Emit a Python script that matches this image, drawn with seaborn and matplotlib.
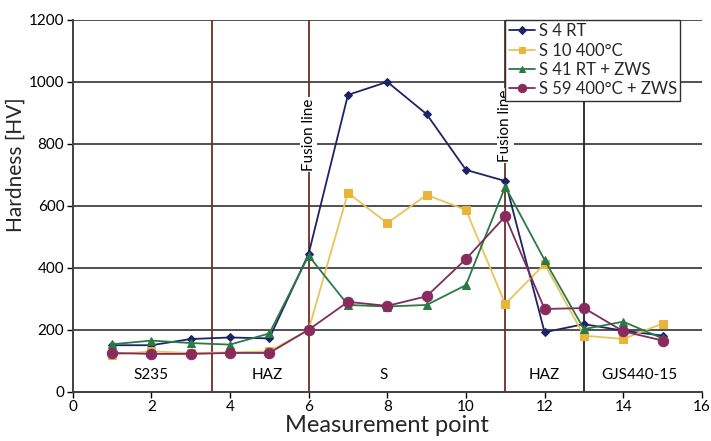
import matplotlib
matplotlib.use("Agg")
import matplotlib.pyplot as plt
import seaborn as sns
import pandas as pd

points = list(range(1, 16))
s4_rt = [150, 150, 170, 175, 172, 445, 958, 1000, 896, 716, 680, 192, 218, 197, 181]
s10_400 = [120, 130, 125, 127, 130, 200, 642, 544, 635, 587, 283, 412, 181, 170, 220]
s41_rt_zws = [153, 165, 157, 152, 188, 439, 280, 275, 280, 344, 662, 425, 202, 226, 172]
s59_400_zws = [125, 122, 122, 125, 125, 200, 290, 277, 308, 428, 566, 267, 270, 195, 165]

series_names = ["S 4 RT", "S 10 400°C", "S 41 RT + ZWS", "S 59 400°C + ZWS"]
series_values = [s4_rt, s10_400, s41_rt_zws, s59_400_zws]
series_colors = ["#1d2466", "#e9b43a", "#2a7a46", "#8a2b5e"]
line_colors = ["#1d2466", "#e8c45a", "#2a7a46", "#7a2f5a"]
series_markers = ["D", "s", "^", "o"]
marker_sizes = [4.5, 6, 6, 7.5]

region_lines = [3.55, 6, 11]
end_line = 13
region_labels = ["S235", "HAZ", "S", "HAZ", "GJS440-15"]
region_label_x = [2.0, 4.95, 7.9, 12.0, 14.4]
fusion_x = [6, 11]
fusion_y = [830, 858]

rows = []
for name, vals in zip(series_names, series_values):
    for p, v in zip(points, vals):
        rows.append({"point": p, "hardness": v, "series": name})
df = pd.DataFrame(rows)

sns.set_theme(style="white")
plt.rcParams["font.family"] = ["Lato", "DejaVu Sans"]

fig = plt.figure(figsize=(7.11, 4.41), dpi=100)
ax = fig.add_axes([0.1022, 0.1118, 0.885, 0.843])

for yv in range(200, 1201, 200):
    ax.axhline(yv, color="#505050", lw=1.4, zorder=1)

for xv in region_lines:
    ax.axvline(xv, color="#6e2e22", lw=1.3, zorder=1)
ax.axvline(end_line, color="#222222", lw=1.3, zorder=1)

for name, c, lc, m, ms in zip(series_names, series_colors, line_colors, series_markers, marker_sizes):
    sub = df[df["series"] == name]
    sns.lineplot(data=sub, x="point", y="hardness", ax=ax, color=lc, lw=1.3,
                 marker=m, markersize=ms, markerfacecolor=c, markeredgecolor=c,
                 label=name, zorder=3)

for fx, fy in zip(fusion_x, fusion_y):
    ax.text(fx, fy, "Fusion line", rotation=90, ha="center", va="center",
            fontsize=11, color="black", zorder=4,
            bbox=dict(facecolor="white", edgecolor="none", pad=1.0))

for lx, lab in zip(region_label_x, region_labels):
    ax.text(lx, 55, lab, ha="center", va="center", fontsize=11, color="black", zorder=4)

ax.set_xlim(0, 16)
ax.set_ylim(0, 1200)
ax.set_xticks(range(0, 17, 2))
ax.set_yticks(range(0, 1201, 200))
ax.tick_params(axis="both", labelsize=11, length=4, width=1, direction="out",
               bottom=True, left=True, colors="black", pad=2)
for sp in ["top", "right"]:
    ax.spines[sp].set_visible(False)
for sp in ["left", "bottom"]:
    ax.spines[sp].set_color("#404040")
    ax.spines[sp].set_linewidth(1.4)

ax.set_xlabel("Measurement point", fontsize=17, labelpad=1)
ax.set_ylabel("Hardness [HV]", fontsize=15, labelpad=2)
ax.yaxis.set_label_coords(-0.075, 0.61)

leg = ax.legend(loc="upper left", bbox_to_anchor=(11 / 16, 1.0), frameon=True,
                fontsize=12, handlelength=1.6, handletextpad=0.2, markerscale=0.8,
                labelspacing=0.2, borderpad=0.2, borderaxespad=0.0,
                fancybox=False, framealpha=1)
leg.get_frame().set_edgecolor("#303030")
leg.get_frame().set_linewidth(1.0)
leg.set_zorder(5)

fig.savefig("out.png", dpi=100)
